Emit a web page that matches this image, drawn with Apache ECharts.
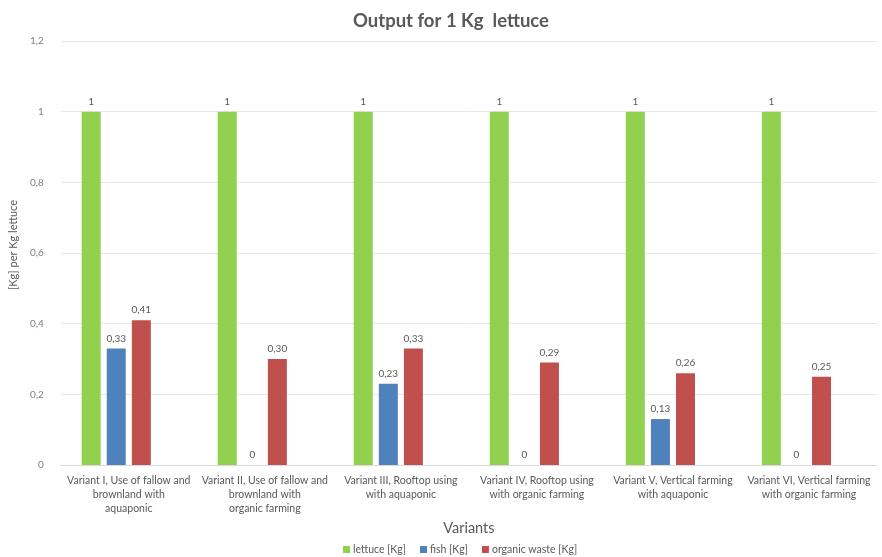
<!DOCTYPE html>
<html>
<head>
<meta charset="utf-8">
<script src="https://cdn.jsdelivr.net/npm/echarts@6/dist/echarts.min.js"></script>
<style>
  html, body { margin: 0; padding: 0; background: #ffffff; }
  #chart { width: 882px; height: 557px; }
</style>
</head>
<body>
<div id="chart"></div>
<script>
// Output per 1 kg of lettuce, by production variant
const categories = [
  'Variant I, Use of fallow and\nbrownland with\naquaponic',
  'Variant II, Use of fallow and\nbrownland with\norganic farming',
  'Variant III, Rooftop using\nwith aquaponic',
  'Variant IV, Rooftop using\nwith organic farming',
  'Variant V, Vertical farming\nwith aquaponic',
  'Variant VI, Vertical farming\nwith organic farming'
];
const lettuce = [1, 1, 1, 1, 1, 1];
const fish = [0.33, 0, 0.23, 0, 0.13, 0];
const organicWaste = [0.41, 0.30, 0.33, 0.29, 0.26, 0.25];
const yTicks = [0, 0.2, 0.4, 0.6, 0.8, 1, 1.2];

const FONT = 'Lato, "Open Sans", sans-serif';
const GREY = '#7f7f7f';

function decimalComma(v) {
  if (Number.isInteger(v)) return String(v);
  return v.toFixed(2).replace('.', ',');
}
function tickLabel(v) {
  const s = String(Math.round(v * 10) / 10);
  return s.replace('.', ',');
}

const labelStyle = {
  show: true,
  position: 'top',
  distance: 5,
  color: '#595959',
  fontSize: 10,
  fontFamily: FONT,
  formatter: p => decimalComma(p.value)
};

function barSeries(name, data, color) {
  return {
    name: name,
    type: 'bar',
    data: data,
    barWidth: 19,
    barGap: '32%',
    itemStyle: { color: color },
    label: labelStyle
  };
}

const chart = echarts.init(document.getElementById('chart'));
chart.setOption({
  backgroundColor: '#ffffff',
  animation: false,
  title: {
    text: 'Output for 1 Kg  lettuce',
    left: 446,
    textAlign: 'center',
    top: 7,
    textStyle: { fontFamily: FONT, fontSize: 18.5, fontWeight: 'bold', color: '#595959' }
  },
  legend: {
    data: ['lettuce [Kg]', 'fish [Kg]', 'organic waste [Kg]'],
    top: 539,
    left: 338,
    itemWidth: 7,
    itemHeight: 7,
    itemGap: 14,
    icon: 'rect',
    textStyle: { fontFamily: FONT, fontSize: 10.5, color: '#595959', padding: [0, 0, 0, -2] }
  },
  grid: { left: 57, right: 5, top: 41, bottom: 92 },
  xAxis: {
    type: 'category',
    data: categories,
    name: 'Variants',
    nameLocation: 'middle',
    nameGap: 41,
    nameTextStyle: { fontFamily: FONT, fontSize: 14.5, color: '#595959' },
    axisLine: { lineStyle: { color: '#d9d9d9' } },
    axisTick: { show: false },
    axisLabel: {
      interval: 0,
      margin: 9,
      fontFamily: FONT,
      fontSize: 10.5,
      lineHeight: 14,
      color: '#595959'
    }
  },
  yAxis: {
    type: 'value',
    min: yTicks[0],
    max: yTicks[yTicks.length - 1],
    interval: 0.2,
    name: '[Kg] per Kg lettuce',
    nameLocation: 'middle',
    nameRotate: 90,
    nameGap: 38,
    nameTextStyle: { fontFamily: FONT, fontSize: 11, color: '#595959', padding: [0, 0, 0, 16] },
    axisLine: { show: false },
    axisTick: { show: false },
    axisLabel: {
      margin: 17,
      fontFamily: FONT,
      fontSize: 10,
      color: GREY,
      formatter: tickLabel
    },
    splitLine: { lineStyle: { color: '#e8e8e8' } }
  },
  series: [
    barSeries('lettuce [Kg]', lettuce, '#92d050'),
    barSeries('fish [Kg]', fish, '#4f81bd'),
    barSeries('organic waste [Kg]', organicWaste, '#c0504d'),
    // empty fourth slot keeps each cluster left of the category centre
    { name: 'spacer', type: 'bar', data: categories.map(() => null), barWidth: 19, barGap: '32%' }
  ]
});
</script>
</body>
</html>
